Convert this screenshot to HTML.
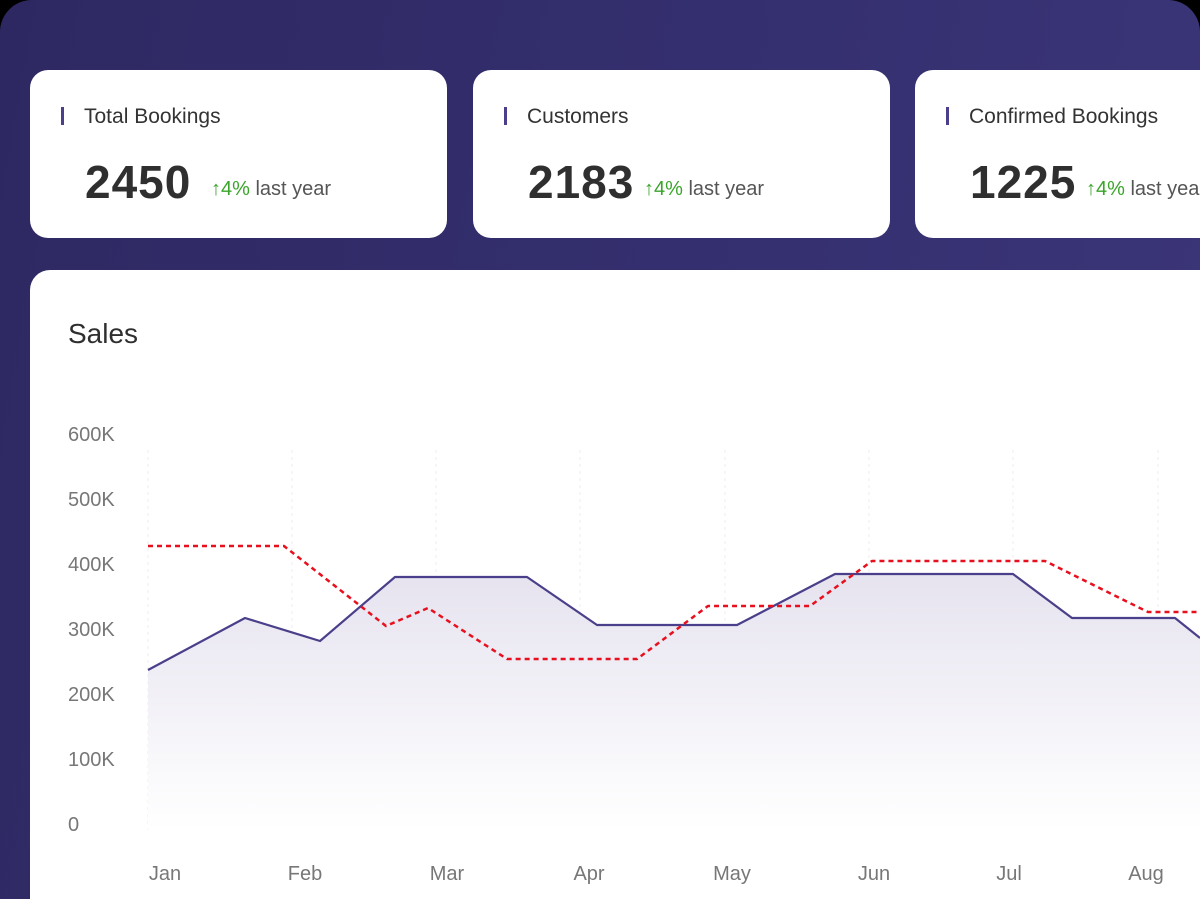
<!DOCTYPE html>
<html><head><meta charset="utf-8"><style>
html,body{margin:0;padding:0;background:#000;width:1200px;height:899px;overflow:hidden;}
body{position:relative;font-family:"Liberation Sans",sans-serif;}
.bg{position:absolute;left:0;top:0;width:1200px;height:899px;border-radius:32px 32px 0 0;background:linear-gradient(100deg,#2e2862 0%,#353070 60%,#3b3678 100%);}
.card{position:absolute;top:70px;height:168px;width:417px;background:#fff;border-radius:18px;}
.card .t{position:absolute;left:54px;top:35px;font-size:21px;color:#333;}
.card .bar{position:absolute;left:31px;top:37px;width:3px;height:18px;background:#4a3f8a;}
.card .n{position:absolute;left:55px;top:85px;font-size:46px;font-weight:bold;color:#2f2f2f;letter-spacing:1px;}
.card .d{position:absolute;top:108px;font-size:20px;color:#555;white-space:nowrap;}
.card .d span{color:#3aa52a;}
.panel{position:absolute;left:30px;top:270px;width:1200px;height:629px;background:#fff;border-radius:20px 0 0 0;}
</style></head><body>
<div class="bg"></div>
<div class="card" style="left:30px"><div class="bar"></div><div class="t">Total Bookings</div><div class="n">2450</div><div class="d" style="left:181px"><span>↑4%</span> last year</div></div>
<div class="card" style="left:473px"><div class="bar"></div><div class="t">Customers</div><div class="n">2183</div><div class="d" style="left:171px"><span>↑4%</span> last year</div></div>
<div class="card" style="left:915px;width:320px"><div class="bar"></div><div class="t">Confirmed Bookings</div><div class="n">1225</div><div class="d" style="left:171px"><span>↑4%</span> last year</div></div>
<div class="panel"></div>
<svg style="position:absolute;left:0;top:0" width="1200" height="899">
<defs><linearGradient id="g" x1="0" y1="0" x2="0" y2="1"><stop offset="0" stop-color="#e6e3ef"/><stop offset="1" stop-color="#ffffff"/></linearGradient></defs>
<text x="68" y="343" font-size="28" fill="#2f2f2f" font-family="Liberation Sans">Sales</text>
<g font-size="20" fill="#777" font-family="Liberation Sans">
<text x="68" y="441">600K</text><text x="68" y="506">500K</text><text x="68" y="571">400K</text><text x="68" y="636">300K</text><text x="68" y="701">200K</text><text x="68" y="766">100K</text><text x="68" y="831">0</text>
<text x="165" y="880" text-anchor="middle">Jan</text><text x="305" y="880" text-anchor="middle">Feb</text><text x="447" y="880" text-anchor="middle">Mar</text><text x="589" y="880" text-anchor="middle">Apr</text><text x="732" y="880" text-anchor="middle">May</text><text x="874" y="880" text-anchor="middle">Jun</text><text x="1009" y="880" text-anchor="middle">Jul</text><text x="1146" y="880" text-anchor="middle">Aug</text>
</g>
<g stroke="#ececf0" stroke-width="1" stroke-dasharray="3 4">
<line x1="148" y1="450" x2="148" y2="830"/><line x1="292" y1="450" x2="292" y2="830"/><line x1="436" y1="450" x2="436" y2="830"/><line x1="580" y1="450" x2="580" y2="830"/><line x1="725" y1="450" x2="725" y2="830"/><line x1="869" y1="450" x2="869" y2="830"/><line x1="1013" y1="450" x2="1013" y2="830"/><line x1="1158" y1="450" x2="1158" y2="830"/>
</g>
<path d="M148,670 L245,618 L320,641 L395,577 L527,577 L597,625 L737,625 L835,574 L1013,574 L1072,618 L1175,618 L1200,638 L1200,830 L148,830 Z" fill="url(#g)"/>
<path d="M148,670 L245,618 L320,641 L395,577 L527,577 L597,625 L737,625 L835,574 L1013,574 L1072,618 L1175,618 L1200,638" fill="none" stroke="#4a3f8a" stroke-width="2.2" stroke-linejoin="round"/>
<path d="M148,546 L284,546 L386,626 L428,608 L507,659 L637,659 L708,606 L810,606 L872,561 L1045,561 L1148,612 L1200,612" fill="none" stroke="#e8101e" stroke-width="2.5" stroke-dasharray="5 4" stroke-linejoin="round"/>
</svg>
</body></html>
